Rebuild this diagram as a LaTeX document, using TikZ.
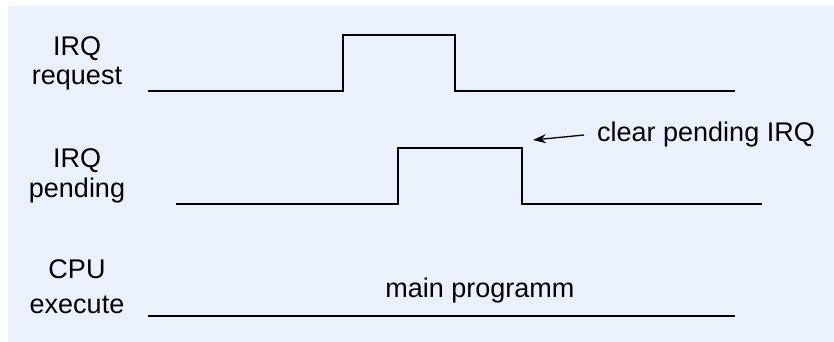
\documentclass[tikz,border=0pt]{standalone}
\usepackage{fontspec}
\setmainfont{Liberation Sans}
\usetikzlibrary{arrows.meta}
\definecolor{irqink}{HTML}{000000}
\definecolor{irqback}{HTML}{EAF1FC}

\begin{document}
\begin{tikzpicture}[
  x=1pt,y=1pt,
  font=\fontsize{27}{31}\selectfont,
  lbl/.style={anchor=base,inner sep=0pt,text=irqink},
  sig/.style={draw=irqink,line width=2.8pt},
  note/.style={-{Stealth[length=13pt,width=9pt]},draw=irqink,line width=1.3pt}
]
  \path[use as bounding box] (0,0) rectangle (834,342);
  \fill[irqback] (8,0) rectangle (834,336);
  % Signal names, two lines each.
  \foreach \id/\ya/\yb/\head/\body in {req/286/257/IRQ/request,
                                      pnd/174/144/IRQ/pending,
                                      cpu/63/28/CPU/execute}{
    \node[lbl] (\id head) at (77,\ya) {\head};
    \node[lbl] (\id body) at (77,\yb) {\body};
  }
  \draw[sig] (148,251) -- (343,251) -- (343,307) -- (455,307) -- (455,251) -- (735,251);
  \draw[sig] (176,138) -- (398,138) -- (398,194) -- (522,194) -- (522,138) -- (762,138);
  \draw[sig] (148,26) -- (735,26);
  \node[lbl,anchor=base west,inner ysep=0pt,inner xsep=13pt] (clr) at (584,200)
    {clear pending IRQ};
  \coordinate (clrtip) at (533,202);
  \draw[note] (clr.west) -- (clrtip);
  \node[lbl] (main) at (480,44) {main programm};
\end{tikzpicture}
\end{document}
